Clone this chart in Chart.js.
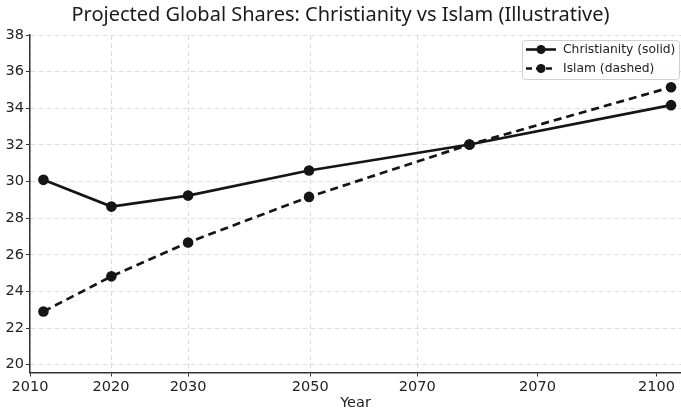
<!DOCTYPE html>
<html>
<head>
<meta charset="utf-8">
<script src="https://cdn.jsdelivr.net/npm/chart.js@4.4.1/dist/chart.umd.min.js"></script>
<style>
  html, body { margin: 0; padding: 0; background: #fff; }
  #wrap { width: 681px; height: 414px; }
</style>
</head>
<body>
<div id="wrap"><canvas id="shareChart"></canvas></div>
<script>
// x positions (axis is not evenly spaced, so ticks are placed by hand)
const xPos = [2011.7, 2020.3, 2030.0, 2045.3, 2065.6, 2091.1]
const christianity = [30.09, 28.63, 29.23, 30.6, 32.02, 34.17]
const islam = [22.9, 24.82, 26.67, 29.16, 32.02, 35.15]

const xTickPos = [2010, 2020.25, 2030, 2045.45, 2059, 2074.2, 2089.25]
const xTickLabels = ["2010", "2020", "2030", "2050", "2070", "2070", "2100"]
const yTicks = [20, 22, 24, 26, 28, 30, 32, 34, 36, 38]

const ink = "#151515"
const gridColor = "#dedede"

const toPoints = (ys) => ys.map((y, i) => ({ x: xPos[i], y: y }))

const insideLegend = {
  id: "insideLegend",
  afterDraw(chart) {
    const { ctx } = chart
    const x0 = 522, y0 = 40, w = 157, h = 39
    ctx.save()
    ctx.fillStyle = "rgba(255,255,255,0.85)"
    ctx.strokeStyle = "#cfcfcf"
    ctx.lineWidth = 1
    ctx.beginPath()
    ctx.roundRect(x0 + 0.5, y0 + 0.5, w, h, 3)
    ctx.fill()
    ctx.stroke()
    ctx.font = "12.3px 'DejaVu Sans'"
    ctx.textBaseline = "middle"
    chart.data.datasets.forEach((ds, i) => {
      const cy = y0 + 9.5 + i * 19
      ctx.strokeStyle = ink
      ctx.lineWidth = 2.6
      ctx.setLineDash(ds.borderDash ? [6, 4] : [])
      ctx.beginPath()
      ctx.moveTo(526, cy)
      ctx.lineTo(556, cy)
      ctx.stroke()
      ctx.setLineDash([])
      ctx.fillStyle = ink
      ctx.beginPath()
      ctx.arc(541, cy, 4.5, 0, Math.PI * 2)
      ctx.fill()
      ctx.fillStyle = "#222"
      ctx.fillText(ds.label, 563, cy + 0.5)
    })
    ctx.restore()
  },
}

new Chart(document.getElementById("shareChart"), {
  type: "line",
  data: {
    datasets: [
      {
        label: "Christianity (solid)",
        data: toPoints(christianity),
        borderColor: ink,
        backgroundColor: ink,
        borderWidth: 2.7,
        pointRadius: 5.3,
        pointBackgroundColor: ink,
        pointBorderWidth: 0,
        tension: 0,
      },
      {
        label: "Islam (dashed)",
        data: toPoints(islam),
        borderColor: ink,
        backgroundColor: ink,
        borderWidth: 2.7,
        borderDash: [8, 5],
        pointRadius: 5.3,
        pointBackgroundColor: ink,
        pointBorderWidth: 0,
        tension: 0,
      },
    ],
  },
  options: {
    responsive: true,
    maintainAspectRatio: false,
    animation: false,
    events: [],
    layout: { autoPadding: false, padding: { left: 0, right: 0, top: 0, bottom: 0 } },
    plugins: {
      legend: { display: false },
      tooltip: { enabled: false },
      title: {
        display: true,
        text: "Projected Global Shares: Christianity vs Islam (Illustrative)",
        color: "#1a1a1a",
        font: { family: "'Noto Sans'", size: 20, weight: "normal" },
        padding: { top: 3.5, bottom: 7.5 },
      },
    },
    scales: {
      x: {
        type: "linear",
        min: 2010,
        max: 2092.36,
        afterBuildTicks(scale) {
          scale.ticks = xTickPos.map((v) => ({ value: v }))
        },
        afterFit(scale) {
          scale.height = 41.5
        },
        ticks: {
          color: "#222",
          padding: 2,
          maxRotation: 0,
          autoSkip: false,
          font: { family: "'DejaVu Sans'", size: 14.5 },
          callback: (v, i) => xTickLabels[i],
        },
        grid: {
          color: (c) => (c.index >= 5 ? "rgba(0,0,0,0)" : gridColor),
          tickColor: "#333",
          tickLength: 4,
          lineWidth: 1,
        },
        border: { display: true, color: "#333", width: 1.5, dash: [5, 3] },
        title: {
          display: true,
          text: "Year",
          color: "#222",
          font: { family: "'DejaVu Sans'", size: 14.5 },
          padding: { top: 0, bottom: 2 },
        },
      },
      y: {
        type: "linear",
        min: 19.57,
        max: 38,
        afterBuildTicks(scale) {
          scale.ticks = yTicks.map((v) => ({ value: v }))
        },
        afterFit(scale) {
          scale.width = 30
        },
        ticks: {
          color: "#222",
          padding: 2,
          font: { family: "'DejaVu Sans'", size: 14.5 },
        },
        grid: {
          color: gridColor,
          tickColor: "#333",
          tickLength: 4,
          lineWidth: 1,
        },
        border: { display: true, color: "#333", width: 1.5, dash: [5, 3] },
      },
    },
  },
  plugins: [insideLegend],
})
</script>
</body>
</html>
